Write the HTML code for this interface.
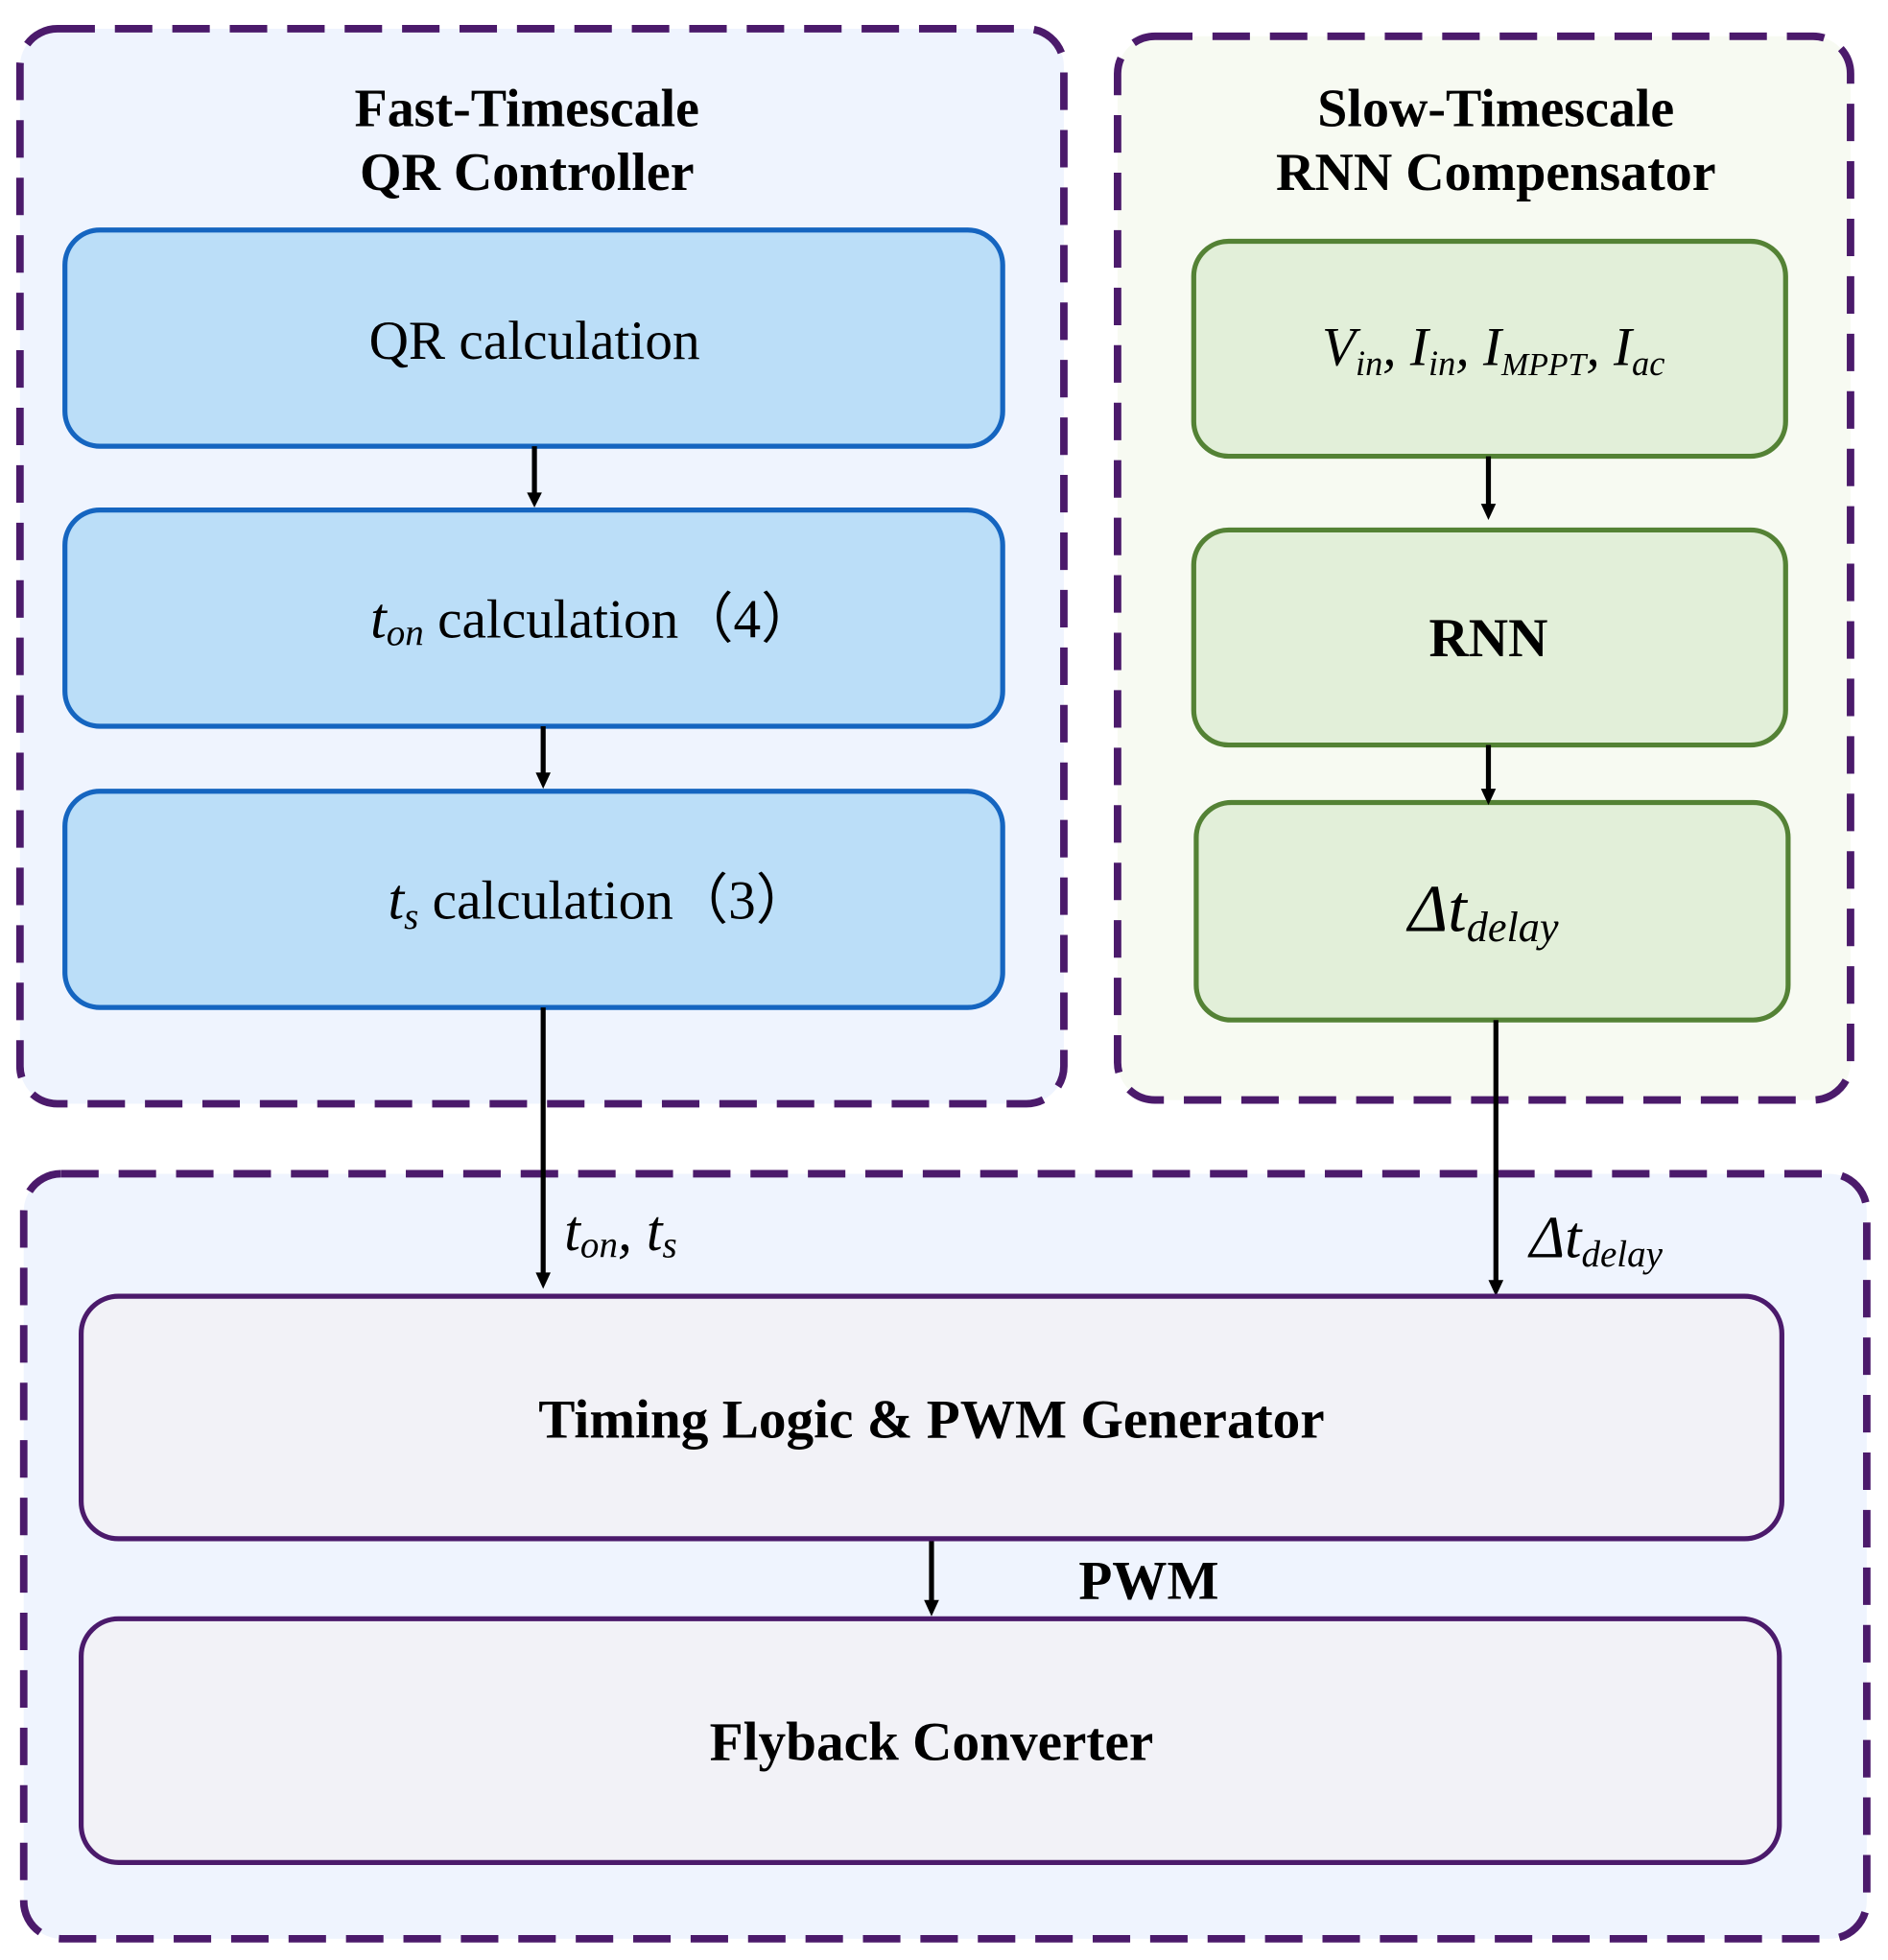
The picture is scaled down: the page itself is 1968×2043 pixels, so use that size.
<!DOCTYPE html>
<html><head><meta charset="utf-8"><style>
html,body{margin:0;padding:0;background:#fff;}
svg{display:block;}
text{font-family:"Liberation Serif",serif;fill:#000;}
</style></head><body>
<svg width="1968" height="2043" viewBox="0 0 1512 1568" preserveAspectRatio="none" xmlns="http://www.w3.org/2000/svg">
<rect x="16" y="23" width="836" height="860" rx="30" fill="#eff4fe" stroke="#4b1a6b" stroke-width="6" stroke-dasharray="30,16"/>
<rect x="895" y="29" width="587" height="851" rx="30" fill="#f7faf2" stroke="#4b1a6b" stroke-width="6" stroke-dasharray="30,16"/>
<rect x="19" y="939" width="1476" height="612" rx="30" fill="#eff4fe" stroke="#4b1a6b" stroke-width="6" stroke-dasharray="30,16"/>

<text x="422" y="101" font-size="43" font-weight="bold" text-anchor="middle">Fast-Timescale</text>
<text x="422" y="152" font-size="43" font-weight="bold" text-anchor="middle">QR Controller</text>
<text x="1198" y="101" font-size="43" font-weight="bold" text-anchor="middle">Slow-Timescale</text>
<text x="1198" y="152" font-size="43" font-weight="bold" text-anchor="middle">RNN Compensator</text>

<rect x="52" y="184" width="751" height="173" rx="28" fill="#bbdef8" stroke="#1565c0" stroke-width="4"/>
<rect x="52" y="408" width="751" height="173" rx="28" fill="#bbdef8" stroke="#1565c0" stroke-width="4"/>
<rect x="52" y="633" width="751" height="173" rx="28" fill="#bbdef8" stroke="#1565c0" stroke-width="4"/>
<text x="428" y="287" font-size="44" text-anchor="middle">QR calculation</text>
<text x="475" y="510" font-size="44" text-anchor="middle"><tspan font-style="italic" font-size="46">t</tspan><tspan font-style="italic" font-size="30" dy="6">on</tspan><tspan dy="-6"> calculation（4）</tspan></text>
<text x="480" y="735" font-size="44" text-anchor="middle"><tspan font-style="italic" font-size="46">t</tspan><tspan font-style="italic" font-size="30" dy="8">s</tspan><tspan dy="-8"> calculation（3）</tspan></text>

<rect x="956" y="193" width="474" height="172" rx="28" fill="#e2efd9" stroke="#548235" stroke-width="4"/>
<rect x="956" y="424" width="474" height="172" rx="28" fill="#e2efd9" stroke="#548235" stroke-width="4"/>
<rect x="958" y="642" width="474" height="174" rx="28" fill="#e2efd9" stroke="#548235" stroke-width="4"/>
<text x="1196" y="292" font-size="44" text-anchor="middle" font-style="italic">V<tspan font-size="28" dy="8">in</tspan><tspan dy="-8">, I</tspan><tspan font-size="28" dy="8">in</tspan><tspan dy="-8">, I</tspan><tspan font-size="26" dy="8">MPPT</tspan><tspan dy="-8">, I</tspan><tspan font-size="28" dy="8">ac</tspan></text>
<text x="1192" y="525" font-size="44" font-weight="bold" text-anchor="middle">RNN</text>
<text x="1188" y="745" font-size="54" text-anchor="middle" font-style="italic">Δt<tspan font-size="34" dy="8">delay</tspan></text>

<g stroke="#000" stroke-width="4" fill="none">
<line x1="428" y1="357" x2="428" y2="396"/>
<line x1="435" y1="581" x2="435" y2="620"/>
<line x1="435" y1="806" x2="435" y2="1020"/>
<line x1="1192" y1="365" x2="1192" y2="405"/>
<line x1="1192" y1="596" x2="1192" y2="633"/>
<line x1="1198" y1="816" x2="1198" y2="1026"/>
<line x1="746" y1="1231" x2="746" y2="1282"/>
</g>
<g fill="#000">
<polygon points="422,394 434,394 428,406"/>
<polygon points="429,618 441,618 435,631"/>
<polygon points="429,1018 441,1018 435,1031"/>
<polygon points="1186,403 1198,403 1192,416"/>
<polygon points="1186,631 1198,631 1192,644"/>
<polygon points="1192,1024 1204,1024 1198,1037"/>
<polygon points="740,1280 752,1280 746,1293"/>
</g>
<text x="452" y="1000" font-size="46" font-style="italic">t<tspan font-size="30" dy="6">on</tspan><tspan dy="-6">, t</tspan><tspan font-size="30" dy="6">s</tspan></text>
<text x="1225" y="1006" font-size="48" font-style="italic">Δt<tspan font-size="30" dy="7">delay</tspan></text>

<rect x="65" y="1037" width="1362" height="194" rx="30" fill="#f2f2f7" stroke="#4b1a6b" stroke-width="4"/>
<text x="746" y="1150" font-size="44" font-weight="bold" text-anchor="middle">Timing Logic &amp; PWM Generator</text>
<text x="920" y="1279" font-size="44" font-weight="bold" text-anchor="middle">PWM</text>
<rect x="65" y="1295" width="1360" height="195" rx="30" fill="#f2f2f7" stroke="#4b1a6b" stroke-width="4"/>
<text x="746" y="1408" font-size="44" font-weight="bold" text-anchor="middle">Flyback Converter</text>
</svg>
</body></html>
